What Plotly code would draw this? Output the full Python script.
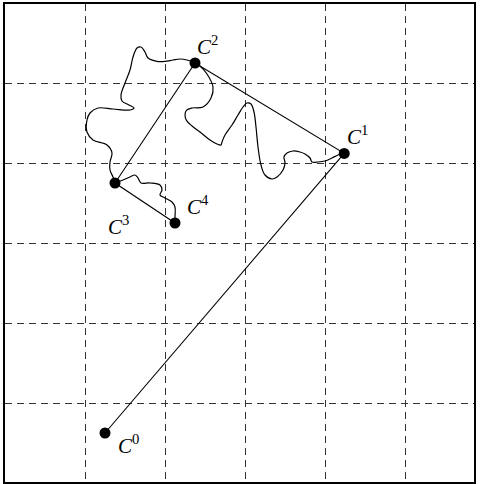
import plotly.graph_objects as go

# Points C0..C4
pt_names = ["C0", "C1", "C2", "C3", "C4"]
pt_x = [1.25, 4.24, 2.375, 1.375, 2.125]
pt_y = [0.625, 4.12, 5.25, 3.75, 3.25]

# Wiggly path C1 -> C2
w1_x = [4.2375, 4.1625, 4.0875, 4.0, 3.9125, 3.8375, 3.8125, 3.75, 3.6875, 3.6, 3.525, 3.4875,
        3.5, 3.475, 3.4, 3.3375, 3.25, 3.2, 3.1625, 3.1375, 3.1125, 3.075, 3.025, 2.975,
        2.9125, 2.8375, 2.75, 2.7125, 2.7, 2.65, 2.5625, 2.4375, 2.3375, 2.27, 2.25, 2.27,
        2.3375, 2.475, 2.575, 2.6, 2.525, 2.4375, 2.375]
w1_y = [4.125, 4.1, 4.0625, 4.025, 4.0125, 4.0125, 4.0625, 4.1125, 4.1375, 4.15, 4.125, 4.075,
        4.0, 3.9125, 3.825, 3.8, 3.85, 3.975, 4.2, 4.45, 4.6375, 4.7375, 4.75, 4.7,
        4.6, 4.475, 4.35, 4.2625, 4.225, 4.2375, 4.2875, 4.3875, 4.4625, 4.53, 4.6, 4.66,
        4.6875, 4.7, 4.8125, 4.95, 5.1125, 5.2125, 5.25]

# Wiggly path C2 -> C3
w2_x = [2.375, 2.275, 2.1875, 2.1, 2.0, 1.9, 1.7875, 1.75, 1.7, 1.65, 1.6, 1.5625, 1.5, 1.45,
        1.4625, 1.55, 1.6125, 1.5625, 1.35, 1.1625, 1.0625, 1.025, 1.025, 1.1, 1.275, 1.3375,
        1.3125, 1.3125, 1.35, 1.375]
w2_y = [5.25, 5.2875, 5.3, 5.2875, 5.27, 5.27, 5.3125, 5.3875, 5.45, 5.4375, 5.325, 5.1625, 5.0, 4.85,
        4.775, 4.725, 4.6875, 4.6625, 4.675, 4.6875, 4.625, 4.5375, 4.3875, 4.2875, 4.225, 4.125,
        4.0125, 3.9125, 3.825, 3.75]

# Wiggly path C3 -> C4
w3_x = [1.375, 1.475, 1.5625, 1.625, 1.6625, 1.7, 1.8125, 1.9375, 1.9625, 1.9375, 2.0, 2.0875,
        2.125, 2.125, 2.125]
w3_y = [3.75, 3.7875, 3.825, 3.85, 3.8125, 3.75, 3.75, 3.725, 3.6625, 3.6, 3.5625, 3.5125,
        3.45, 3.325, 3.25]

# Label positions
lab_x = [1.5375, 4.4, 2.525, 1.4125, 2.4125]
lab_y = [0.4875, 4.35, 5.475, 3.225, 3.475]
lab_sup = ["0", "1", "2", "3", "4"]

fig = go.Figure()
for wx, wy in [(w1_x, w1_y), (w2_x, w2_y), (w3_x, w3_y)]:
    fig.add_trace(go.Scatter(x=wx, y=wy, mode="lines",
                             line=dict(color="black", width=1.2, shape="spline", smoothing=1.0),
                             hoverinfo="skip"))
fig.add_trace(go.Scatter(x=pt_x, y=pt_y, mode="lines+markers", text=pt_names,
                         line=dict(color="black", width=1.1),
                         marker=dict(color="black", size=11)))

for x, y, s in zip(lab_x, lab_y, lab_sup):
    fig.add_annotation(x=x, y=y, text=f"<i>C</i><sup>{s}</sup>", showarrow=False,
                       font=dict(family="Liberation Serif", size=21, color="black"))

axis_common = dict(dtick=1, tick0=0, showgrid=True, gridcolor="#333333", gridwidth=1,
                   griddash="7px,5px", zeroline=False, showticklabels=False, ticks="",
                   showline=True, linecolor="black", linewidth=1.5, mirror=True)
fig.update_xaxes(range=[0, 5.8625], **axis_common)
fig.update_yaxes(range=[0.0125, 5.9875], **axis_common)

fig.update_layout(width=480, height=484, margin=dict(l=5, r=6, t=4, b=2),
                  paper_bgcolor="white", plot_bgcolor="white", showlegend=False)

fig.write_html("out.html", config={"displayModeBar": False},
               post_script="document.body.style.margin='0';document.body.style.overflow='hidden';")
